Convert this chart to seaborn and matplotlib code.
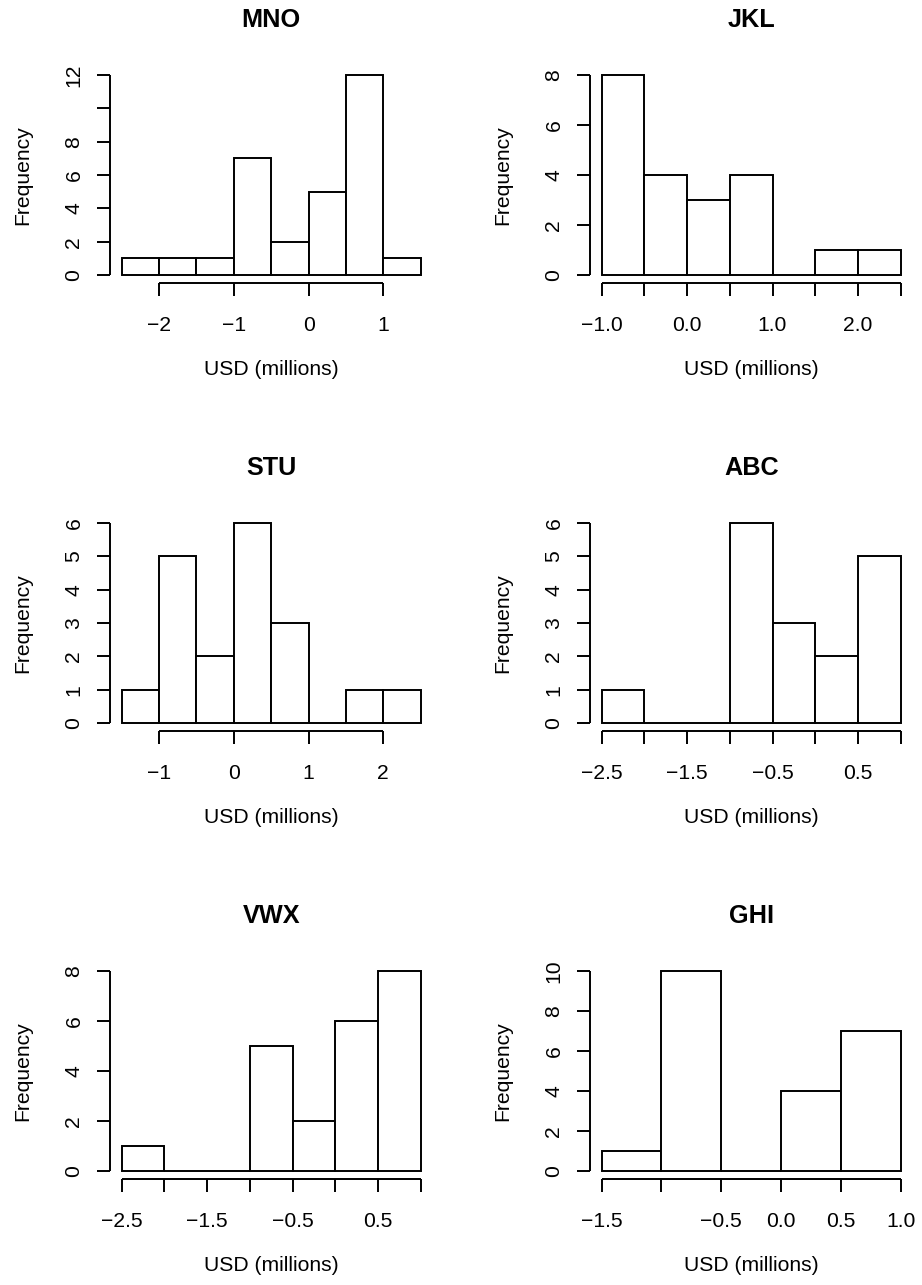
import numpy as np
import pandas as pd
import matplotlib
matplotlib.use("Agg")
import matplotlib.pyplot as plt
import seaborn as sns

sns.set_style("ticks")
plt.rcParams['font.family'] = ['Liberation Sans', 'DejaVu Sans']
plt.rcParams['text.color'] = 'black'
plt.rcParams['axes.labelcolor'] = 'black'
plt.rcParams['xtick.color'] = 'black'
plt.rcParams['ytick.color'] = 'black'
plt.rcParams['axes.edgecolor'] = 'black'

# ---- data ----
names = ["MNO", "JKL", "STU", "ABC", "VWX", "GHI"]

edges_mno = [-2.5, -2.0, -1.5, -1.0, -0.5, 0.0, 0.5, 1.0, 1.5]
counts_mno = [1, 1, 1, 7, 2, 5, 12, 1]
xticks_mno = [-2, -1, 0, 1]
xlabels_mno = ["\u22122", "\u22121", "0", "1"]
yticks_mno = [0, 2, 4, 6, 8, 10, 12]
ylabels_mno = ["0", "2", "4", "6", "8", "", "12"]

edges_jkl = [-1.0, -0.5, 0.0, 0.5, 1.0, 1.5, 2.0, 2.5]
counts_jkl = [8, 4, 3, 4, 0, 1, 1]
xticks_jkl = [-1.0, -0.5, 0.0, 0.5, 1.0, 1.5, 2.0, 2.5]
xlabels_jkl = ["\u22121.0", "", "0.0", "", "1.0", "", "2.0", ""]
yticks_jkl = [0, 2, 4, 6, 8]
ylabels_jkl = ["0", "2", "4", "6", "8"]

edges_stu = [-1.5, -1.0, -0.5, 0.0, 0.5, 1.0, 1.5, 2.0, 2.5]
counts_stu = [1, 5, 2, 6, 3, 0, 1, 1]
xticks_stu = [-1, 0, 1, 2]
xlabels_stu = ["\u22121", "0", "1", "2"]
yticks_stu = [0, 1, 2, 3, 4, 5, 6]
ylabels_stu = ["0", "1", "2", "3", "4", "5", "6"]

edges_abc = [-2.5, -2.0, -1.5, -1.0, -0.5, 0.0, 0.5, 1.0]
counts_abc = [1, 0, 0, 6, 3, 2, 5]
xticks_abc = [-2.5, -2.0, -1.5, -1.0, -0.5, 0.0, 0.5, 1.0]
xlabels_abc = ["\u22122.5", "", "\u22121.5", "", "\u22120.5", "", "0.5", ""]
yticks_abc = [0, 1, 2, 3, 4, 5, 6]
ylabels_abc = ["0", "1", "2", "3", "4", "5", "6"]

edges_vwx = [-2.5, -2.0, -1.5, -1.0, -0.5, 0.0, 0.5, 1.0]
counts_vwx = [1, 0, 0, 5, 2, 6, 8]
xticks_vwx = [-2.5, -2.0, -1.5, -1.0, -0.5, 0.0, 0.5, 1.0]
xlabels_vwx = ["\u22122.5", "", "\u22121.5", "", "\u22120.5", "", "0.5", ""]
yticks_vwx = [0, 2, 4, 6, 8]
ylabels_vwx = ["0", "2", "4", "6", "8"]

edges_ghi = [-1.5, -1.0, -0.5, 0.0, 0.5, 1.0]
counts_ghi = [1, 10, 0, 4, 7]
xticks_ghi = [-1.5, -1.0, -0.5, 0.0, 0.5, 1.0]
xlabels_ghi = ["\u22121.5", "", "\u22120.5", "0.0", "0.5", "1.0"]
yticks_ghi = [0, 2, 4, 6, 8, 10]
ylabels_ghi = ["0", "2", "4", "6", "8", "10"]

panels = [
    (names[0], edges_mno, counts_mno, xticks_mno, xlabels_mno, yticks_mno, ylabels_mno),
    (names[1], edges_jkl, counts_jkl, xticks_jkl, xlabels_jkl, yticks_jkl, ylabels_jkl),
    (names[2], edges_stu, counts_stu, xticks_stu, xlabels_stu, yticks_stu, ylabels_stu),
    (names[3], edges_abc, counts_abc, xticks_abc, xlabels_abc, yticks_abc, ylabels_abc),
    (names[4], edges_vwx, counts_vwx, xticks_vwx, xlabels_vwx, yticks_vwx, ylabels_vwx),
    (names[5], edges_ghi, counts_ghi, xticks_ghi, xlabels_ghi, yticks_ghi, ylabels_ghi),
]

# ---- layout (pixels) ----
W, H = 922, 1285
fig = plt.figure(figsize=(W / 100, H / 100), dpi=100)
col_left = [109.7, 589.7]
row_top = [67, 515, 963]
pw, ph = 323, 216
FS = 15.2
LW = 1.4

for i, (name, edges, counts, xt, xl, yt, yl) in enumerate(panels):
    r, c = divmod(i, 2)
    left = col_left[c]
    top = row_top[r]
    ax = fig.add_axes([left / W, 1 - (top + ph) / H, pw / W, ph / H])
    e = np.array(edges, dtype=float)
    df = pd.DataFrame({"x": (e[:-1] + e[1:]) / 2, "w": counts})
    sns.histplot(data=df, x="x", weights="w", bins=list(edges), ax=ax,
                 color="white", edgecolor="black", linewidth=LW, alpha=1)
    rng = e[-1] - e[0]
    ax.set_xlim(e[0] - 0.04 * rng, e[-1] + 0.04 * rng)
    ymax = max(counts)
    ax.set_ylim(-0.04 * ymax, 1.04 * ymax)

    for s in ["top", "right"]:
        ax.spines[s].set_visible(False)
    ax.spines["left"].set_bounds(yt[0], yt[-1])
    ax.spines["bottom"].set_bounds(xt[0], xt[-1])
    for s in ["left", "bottom"]:
        ax.spines[s].set_linewidth(LW)
        ax.spines[s].set_color("black")
        ax.spines[s].set_capstyle("butt")

    ax.set_xticks(xt)
    ax.set_xticklabels(xl)
    ax.set_yticks(yt)
    ax.set_yticklabels(yl, rotation=90, va="center")
    ax.tick_params(axis="x", bottom=True, direction="out", length=9.5, width=LW,
                   pad=14, labelsize=FS, colors="black")
    ax.tick_params(axis="y", left=True, direction="out", length=9.5, width=LW,
                   pad=9.4, labelsize=FS, colors="black")

    ax.set_xlabel("USD (millions)", fontsize=FS, color="black")
    ax.set_ylabel("Frequency", fontsize=FS, color="black")
    ax.xaxis.set_label_coords(0.5, -77 / ph)
    ax.yaxis.set_label_coords(-77.7 / pw, 0.5)
    ax.set_title(name, fontsize=18.2, fontweight="bold", pad=28.8, color="black")
    ax.grid(False)

fig.savefig("out.png", dpi=100, facecolor="white")
